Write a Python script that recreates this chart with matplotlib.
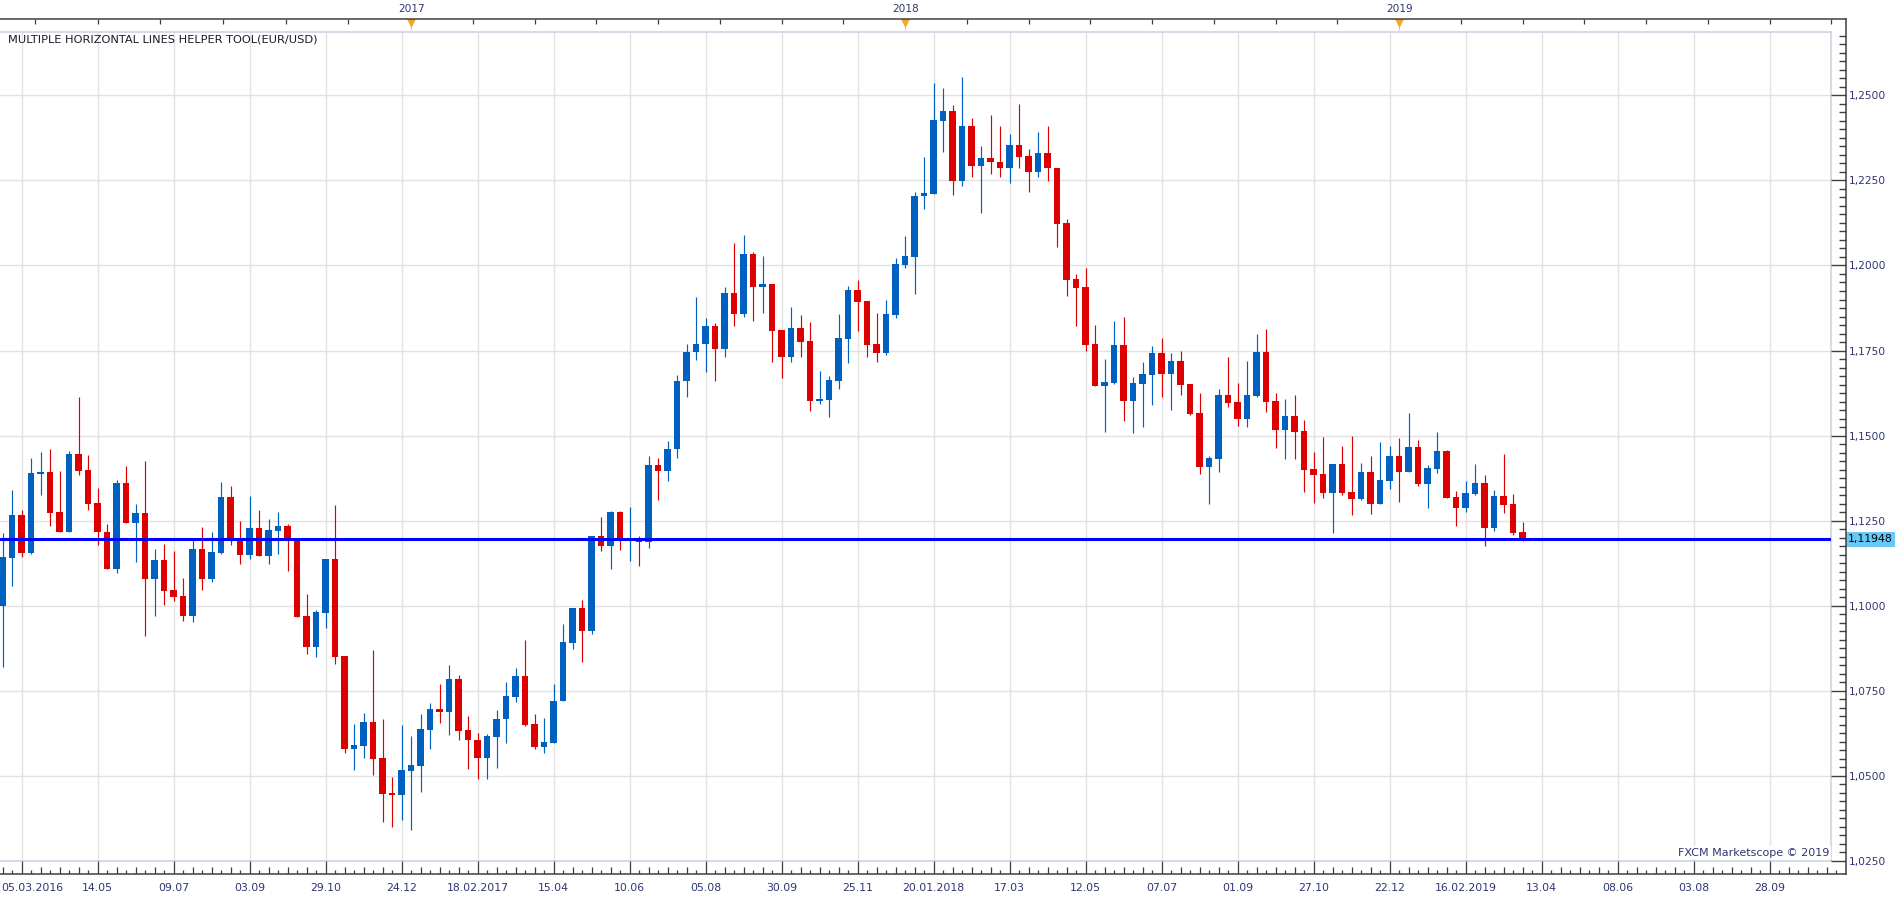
import matplotlib
matplotlib.use("Agg")
import matplotlib.pyplot as plt
import matplotlib.transforms as mtransforms
from matplotlib.lines import Line2D
import numpy as np

# weekly EUR/USD candles, first week 05.03.2016
opens = [
    1.1000, 1.1141, 1.1267, 1.1156, 1.1388, 1.1393, 1.1276, 1.1216, 1.1446, 1.1399,
    1.1302, 1.1217, 1.1107, 1.1361, 1.1244, 1.1273, 1.1080, 1.1134, 1.1046, 1.1029,
    1.0971, 1.1167, 1.1080, 1.1156, 1.1320, 1.1193, 1.1150, 1.1228, 1.1147, 1.1221,
    1.1234, 1.1197, 1.0970, 1.0880, 1.0980, 1.1137, 1.0852, 1.0580, 1.0589, 1.0658,
    1.0552, 1.0450, 1.0445, 1.0515, 1.0530, 1.0636, 1.0696, 1.0689, 1.0785, 1.0635,
    1.0605, 1.0553, 1.0615, 1.0666, 1.0733, 1.0794, 1.0652, 1.0584, 1.0598, 1.0719,
    1.0892, 1.0993, 1.0927, 1.1206, 1.1175, 1.1276, 1.1189, 1.1200, 1.1186, 1.1414,
    1.1395, 1.1460, 1.1660, 1.1746, 1.1769, 1.1821, 1.1755, 1.1918, 1.1857, 1.2033,
    1.1937, 1.1947, 1.1810, 1.1732, 1.1816, 1.1778, 1.1602, 1.1605, 1.1661, 1.1785,
    1.1928, 1.1895, 1.1769, 1.1743, 1.1855, 1.2002, 1.2026, 1.2203, 1.2211, 1.2426,
    1.2455, 1.2247, 1.2411, 1.2291, 1.2316, 1.2305, 1.2285, 1.2355, 1.2322, 1.2276,
    1.2331, 1.2287, 1.2125, 1.1960, 1.1937, 1.1769, 1.1646, 1.1654, 1.1766, 1.1602,
    1.1651, 1.1678, 1.1743, 1.1682, 1.1720, 1.1652, 1.1566, 1.1408, 1.1431, 1.1619,
    1.1599, 1.1550, 1.1616, 1.1746, 1.1602, 1.1517, 1.1557, 1.1513, 1.1401, 1.1387,
    1.1332, 1.1416, 1.1334, 1.1314, 1.1392, 1.1299, 1.1366, 1.1440, 1.1392, 1.1466,
    1.1358, 1.1401, 1.1454, 1.1319, 1.1287, 1.1328, 1.1360, 1.1228, 1.1322, 1.1298,
    1.1216,
]
highs = [
    1.1213, 1.1340, 1.1281, 1.1434, 1.1452, 1.1461, 1.1396, 1.1455, 1.1614, 1.1443,
    1.1346, 1.1240, 1.1370, 1.1411, 1.1299, 1.1425, 1.1167, 1.1181, 1.1161, 1.1082,
    1.1193, 1.1231, 1.1217, 1.1364, 1.1352, 1.1249, 1.1323, 1.1281, 1.1255, 1.1276,
    1.1240, 1.1197, 1.1035, 1.0987, 1.1137, 1.1297, 1.0852, 1.0652, 1.0685, 1.0870,
    1.0667, 1.0497, 1.0649, 1.0617, 1.0682, 1.0714, 1.0770, 1.0826, 1.0796, 1.0676,
    1.0626, 1.0624, 1.0694, 1.0776, 1.0818, 1.0900, 1.0683, 1.0670, 1.0770, 1.0945,
    1.0993, 1.1017, 1.1206, 1.1261, 1.1279, 1.1279, 1.1291, 1.1206, 1.1441, 1.1435,
    1.1485, 1.1677, 1.1770, 1.1906, 1.1845, 1.1832, 1.1938, 1.2065, 1.2089, 1.2040,
    1.2029, 1.1947, 1.1810, 1.1878, 1.1854, 1.1834, 1.1690, 1.1675, 1.1858, 1.1940,
    1.1957, 1.1895, 1.1861, 1.1898, 1.2022, 1.2087, 1.2216, 1.2319, 1.2537, 1.2523,
    1.2473, 1.2555, 1.2434, 1.2352, 1.2443, 1.2411, 1.2387, 1.2475, 1.2343, 1.2393,
    1.2411, 1.2287, 1.2137, 1.1975, 1.1993, 1.1825, 1.1726, 1.1837, 1.1848, 1.1672,
    1.1717, 1.1763, 1.1787, 1.1743, 1.1749, 1.1652, 1.1625, 1.1440, 1.1637, 1.1731,
    1.1655, 1.1720, 1.1799, 1.1814, 1.1625, 1.1608, 1.1619, 1.1546, 1.1451, 1.1496,
    1.1416, 1.1469, 1.1498, 1.1419, 1.1440, 1.1481, 1.1469, 1.1493, 1.1566, 1.1487,
    1.1413, 1.1510, 1.1457, 1.1336, 1.1366, 1.1416, 1.1384, 1.1339, 1.1446, 1.1328,
    1.1246,
]
lows = [
    1.0821, 1.1059, 1.1144, 1.1153, 1.1326, 1.1235, 1.1216, 1.1216, 1.1385, 1.1282,
    1.1179, 1.1107, 1.1097, 1.1244, 1.1130, 1.0912, 1.0971, 1.1002, 1.1015, 1.0956,
    1.0953, 1.1047, 1.1071, 1.1153, 1.1179, 1.1124, 1.1138, 1.1147, 1.1124, 1.1153,
    1.1103, 1.0968, 1.0859, 1.0850, 1.0935, 1.0830, 1.0568, 1.0518, 1.0553, 1.0503,
    1.0365, 1.0350, 1.0371, 1.0340, 1.0453, 1.0580, 1.0655, 1.0620, 1.0606, 1.0521,
    1.0491, 1.0491, 1.0522, 1.0598, 1.0716, 1.0647, 1.0578, 1.0567, 1.0598, 1.0719,
    1.0872, 1.0835, 1.0917, 1.1160, 1.1107, 1.1165, 1.1131, 1.1116, 1.1169, 1.1310,
    1.1368, 1.1434, 1.1613, 1.1722, 1.1687, 1.1660, 1.1730, 1.1822, 1.1850, 1.1836,
    1.1859, 1.1716, 1.1670, 1.1717, 1.1732, 1.1572, 1.1592, 1.1555, 1.1637, 1.1714,
    1.1808, 1.1732, 1.1717, 1.1737, 1.1846, 1.1993, 1.1916, 1.2166, 1.2211, 1.2334,
    1.2206, 1.2235, 1.2261, 1.2155, 1.2270, 1.2261, 1.2241, 1.2285, 1.2217, 1.2261,
    1.2249, 1.2054, 1.1911, 1.1823, 1.1749, 1.1646, 1.1511, 1.1651, 1.1543, 1.1508,
    1.1525, 1.1590, 1.1613, 1.1575, 1.1620, 1.1560, 1.1387, 1.1299, 1.1393, 1.1585,
    1.1529, 1.1525, 1.1613, 1.1569, 1.1464, 1.1431, 1.1431, 1.1334, 1.1302, 1.1317,
    1.1214, 1.1326, 1.1267, 1.1311, 1.1270, 1.1299, 1.1343, 1.1305, 1.1392, 1.1352,
    1.1287, 1.1389, 1.1317, 1.1234, 1.1275, 1.1325, 1.1175, 1.1220, 1.1273, 1.1208,
    1.1190,
]
closes = [
    1.1143, 1.1267, 1.1156, 1.1390, 1.1393, 1.1274, 1.1216, 1.1446, 1.1397, 1.1300,
    1.1216, 1.1107, 1.1361, 1.1244, 1.1273, 1.1080, 1.1134, 1.1044, 1.1027, 1.0971,
    1.1167, 1.1080, 1.1158, 1.1320, 1.1191, 1.1150, 1.1228, 1.1147, 1.1223, 1.1234,
    1.1194, 1.0968, 1.0880, 1.0982, 1.1137, 1.0850, 1.0580, 1.0590, 1.0658, 1.0550,
    1.0447, 1.0445, 1.0517, 1.0532, 1.0638, 1.0696, 1.0689, 1.0785, 1.0633, 1.0606,
    1.0553, 1.0617, 1.0666, 1.0734, 1.0794, 1.0651, 1.0584, 1.0599, 1.0720, 1.0894,
    1.0993, 1.0927, 1.1206, 1.1175, 1.1276, 1.1189, 1.1195, 1.1186, 1.1414, 1.1395,
    1.1462, 1.1662, 1.1747, 1.1770, 1.1821, 1.1755, 1.1918, 1.1857, 1.2033, 1.1937,
    1.1947, 1.1807, 1.1732, 1.1816, 1.1776, 1.1602, 1.1607, 1.1663, 1.1786, 1.1928,
    1.1893, 1.1767, 1.1743, 1.1857, 1.2004, 1.2028, 1.2205, 1.2214, 1.2428, 1.2455,
    1.2247, 1.2411, 1.2291, 1.2316, 1.2303, 1.2285, 1.2355, 1.2320, 1.2276, 1.2331,
    1.2285, 1.2122, 1.1957, 1.1935, 1.1767, 1.1646, 1.1657, 1.1766, 1.1602, 1.1654,
    1.1681, 1.1743, 1.1682, 1.1720, 1.1650, 1.1563, 1.1408, 1.1434, 1.1619, 1.1597,
    1.1550, 1.1619, 1.1746, 1.1599, 1.1517, 1.1557, 1.1511, 1.1399, 1.1385, 1.1332,
    1.1416, 1.1332, 1.1314, 1.1392, 1.1299, 1.1369, 1.1440, 1.1392, 1.1466, 1.1358,
    1.1404, 1.1454, 1.1317, 1.1287, 1.1331, 1.1360, 1.1228, 1.1322, 1.1296, 1.1214,
    1.1193,
]

first_label = "05.03.2016"
week_labels = ["14.05", "09.07", "03.09", "29.10", "24.12", "18.02.2017", "15.04",
               "10.06", "05.08", "30.09", "25.11", "20.01.2018", "17.03", "12.05",
               "07.07", "01.09", "27.10", "22.12", "16.02.2019", "13.04", "08.06",
               "03.08", "28.09"]
label_weeks = list(range(10, 187, 8))
grid_weeks = list(range(2, 190, 8))
year_labels = ["2017", "2018", "2019"]
year_weeks = [43, 95, 147]
line_level = 1.11948

BLUE = "#0060c0"
RED = "#dd0000"
NAVY = "#2e3570"
AXIS = "#3f3f3f"
W, H = 1903, 900
PXW = 9.5          # pixels per weekly candle
X0 = -0.284        # week index at left pixel edge
YLO, YHI = 1.025, 1.2687


def fx(px):
    return px / W


def fy(py):
    return 1 - py / H


def xspan(px0, px1):
    return X0 + px0 / PXW, X0 + px1 / PXW


fig = plt.figure(figsize=(W / 100, H / 100), dpi=100)
fig.patch.set_facecolor("white")

# main price panel
ax = fig.add_axes([fx(0), fy(861), fx(1831), (861 - 31.7) / H])
ax.set_xlim(*xspan(0, 1831))
ax.set_ylim(YLO, YHI)
ax.set_xticks(grid_weeks)
ax.set_yticks(np.arange(1.025, 1.2501, 0.025))
ax.grid(color="#e2e2e2", lw=1.0, zorder=0)
ax.set_axisbelow(True)
ax.tick_params(length=0, labelbottom=False, labelleft=False)
for side in ("top", "right", "bottom"):
    ax.spines[side].set_color("#cbd5e1")
    ax.spines[side].set_linewidth(1.2)
ax.spines["left"].set_visible(False)

o = np.asarray(opens)
h = np.asarray(highs)
l = np.asarray(lows)
c = np.asarray(closes)
x = np.arange(len(o))
colors = np.where(c >= o, BLUE, RED)

ax.vlines(x, l, h, colors=colors, lw=0.85, zorder=2)
ax.bar(x, np.maximum(np.abs(c - o), 0.0003), bottom=np.minimum(o, c),
       width=0.68, color=colors, linewidth=0, zorder=2)
ax.axhline(line_level, color="#0000ff", lw=2.2, zorder=3)

ax.text(8 / 1831, 1 - 7.5 / 829.3, "MULTIPLE HORIZONTAL LINES HELPER TOOL(EUR/USD)",
        transform=ax.transAxes, ha="left", va="center", fontsize=8.2,
        color="#1a1a2a", zorder=4)
ax.text(1 - 2 / 1831, 8.5 / 829.3, "FXCM Marketscope \u00a9 2019",
        transform=ax.transAxes, ha="right", va="center", fontsize=8.0,
        color=NAVY, zorder=5,
        bbox=dict(boxstyle="square,pad=0.15", fc="white", ec="none"))

# right price scale
ax_r = fig.add_axes([fx(1831), fy(861), fx(1845.7 - 1831), (861 - 31.7) / H])
ax_r.set_ylim(YLO, YHI)
ax_r.set_xticks([])
for s in ax_r.spines.values():
    s.set_visible(False)
ax_r.patch.set_alpha(0)
ax_r.yaxis.tick_right()
ax_r.set_yticks(np.arange(1.025, 1.2501, 0.025))
ax_r.set_yticks(np.arange(1.025, 1.2686, 0.0025), minor=True)
ax_r.yaxis.set_major_formatter(lambda v, p: f"{v:.4f}".replace(".", ","))
ax_r.tick_params(axis="y", which="major", direction="in", length=10.6, width=1.0,
                 color=AXIS, labelsize=7.7, labelcolor=NAVY, pad=2.6)
ax_r.tick_params(axis="y", which="minor", direction="in", length=4.8, width=1.0,
                 color=AXIS)
lab_tr = mtransforms.offset_copy(
    mtransforms.blended_transform_factory(ax_r.transAxes, ax_r.transData),
    fig=fig, x=2.2, y=0, units="dots")
ax_r.text(1.0, line_level, f"{line_level:.5f}".replace(".", ","), transform=lab_tr,
          ha="left", va="center", fontsize=7.8, color="black", zorder=6,
          bbox=dict(boxstyle="square,pad=0.2", fc="#66c9f7", ec="none"))

# bottom date scale
ax_b = fig.add_axes([fx(0), fy(874), fx(1845.7), (874 - 861) / H])
ax_b.set_xlim(*xspan(0, 1845.7))
ax_b.set_ylim(0, 1)
ax_b.axis("off")
weeks_all = np.arange(0, 195)
tick_len = np.where(np.isin(weeks_all, grid_weeks), 1.0,
                    np.where(weeks_all % 2 == 0, 0.55, 0.32))
ax_b.vlines(weeks_all, 0, tick_len, color=AXIS, lw=0.9)
date_tr = mtransforms.blended_transform_factory(ax_b.transData, fig.transFigure)
for wk, lab in zip(label_weeks, week_labels):
    ax_b.text(wk, fy(888), lab, transform=date_tr, ha="center", va="center",
              fontsize=7.8, color=NAVY)
ax_b.text(X0 + 1 / PXW, fy(888), first_label, transform=date_tr, ha="left",
          va="center", fontsize=7.8, color=NAVY)

# top year strip
ax_t = fig.add_axes([fx(0), fy(31.7), fx(1845.7), 31.7 / H])
ax_t.set_xlim(*xspan(0, 1845.7))
ax_t.set_ylim(31.7, 0)
ax_t.axis("off")
top_ticks = np.concatenate([np.arange(year_weeks[0], -1, -6.6)[1:],
                            np.arange(year_weeks[0], 195, 6.5)])
top_ticks = top_ticks[~np.isin(np.round(top_ticks), year_weeks)]
ax_t.vlines(top_ticks, 19, 24.3, color=AXIS, lw=0.9)
ax_t.vlines(year_weeks, 19, 30, color="#c9c9c9", lw=0.8)
ax_t.scatter(year_weeks, [22.6] * len(year_weeks), marker="v", s=42,
             color="#f5a623", linewidths=0, zorder=3, clip_on=False)
for wk, lab in zip(year_weeks, year_labels):
    ax_t.text(wk, 8.8, lab, ha="center", va="center", fontsize=7.6, color=NAVY)

# outer axis frame lines
for (x0, y0), (x1, y1) in [((0, 19), (1845.7, 19)),
                           ((1845.7, 19), (1845.7, 874)),
                           ((0, 874), (1845.7, 874))]:
    fig.add_artist(Line2D([fx(x0), fx(x1)], [fy(y0), fy(y1)], color=AXIS, lw=1.1,
                          transform=fig.transFigure))

fig.savefig("out.png", dpi=100)
